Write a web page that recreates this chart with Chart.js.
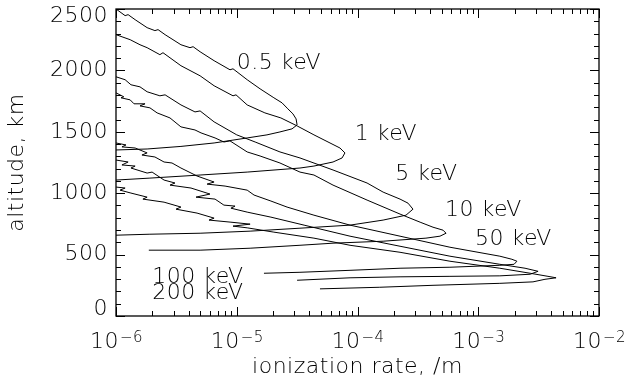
<!DOCTYPE html>
<html>
<head>
<meta charset="utf-8">
<script src="https://cdn.jsdelivr.net/npm/chart.js@4.4.0/dist/chart.umd.min.js"></script>
<style>
    html, body { margin: 0; padding: 0; background: #fff; }
</style>
</head>
<body>
<canvas id="myChart" width="640" height="388"></canvas>
<script>
// ionization rate (/m) against altitude (km), one pair of arrays per beam energy

const rate05 = [1.0e-6, 1.19e-6, 1.26e-6, 1.44e-6, 1.81e-6, 2.10e-6, 2.23e-6, 2.55e-6, 3.45e-6, 4.10e-6, 4.35e-6, 4.97e-6, 6.49e-6, 8.79e-6, 9.31e-6, 1.22e-5, 1.56e-5, 2.03e-5, 2.37e-5, 2.65e-5, 2.92e-5, 3.10e-5, 3.16e-5, 2.87e-5, 2.28e-5, 1.78e-5, 1.22e-5, 6.49e-6, 3.45e-6, 1.81e-6, 1.0e-6];
const alt05 = [2500, 2446, 2454, 2413, 2348, 2324, 2332, 2291, 2209, 2185, 2193, 2152, 2079, 2005, 2013, 1924, 1850, 1777, 1736, 1687, 1646, 1605, 1556, 1524, 1499, 1475, 1450, 1409, 1381, 1360, 1352];

const rate1 = [1.0e-6, 1.31e-6, 1.58e-6, 1.81e-6, 2.31e-6, 2.45e-6, 3.45e-6, 4.97e-6, 6.49e-6, 9.31e-6, 9.86e-6, 1.22e-5, 1.71e-5, 2.32e-5, 3.16e-5, 4.36e-5, 5.92e-5, 7.16e-5, 7.87e-5, 7.45e-5, 6.27e-5, 4.36e-5, 3.34e-5, 1.22e-5, 4.97e-6, 1.91e-6, 1.0e-6];
const alt1 = [2291, 2250, 2209, 2185, 2128, 2144, 2038, 1956, 1875, 1793, 1801, 1719, 1654, 1613, 1548, 1475, 1409, 1368, 1328, 1287, 1254, 1221, 1205, 1172, 1148, 1123, 1107];

const rate5 = [1.0e-6, 1.19e-6, 1.33e-6, 1.58e-6, 1.81e-6, 2.31e-6, 2.55e-6, 3.45e-6, 4.51e-6, 4.97e-6, 6.49e-6, 1.00e-5, 1.42e-5, 2.28e-5, 3.34e-5, 6.27e-5, 1.20e-4, 1.63e-4, 2.25e-4, 2.62e-4, 2.88e-4, 2.52e-4, 1.63e-4, 8.67e-5, 3.34e-5, 1.29e-5, 4.97e-6, 1.91e-6, 1.0e-6];
const alt5 = [1948, 1924, 1883, 1866, 1826, 1793, 1801, 1719, 1662, 1670, 1581, 1475, 1417, 1336, 1287, 1189, 1083, 1009, 952, 919, 870, 821, 781, 740, 715, 691, 674, 666, 658];

const rate10 = [1.0e-6, 1.16e-6, 1.10e-6, 1.31e-6, 1.41e-6, 1.74e-6, 1.58e-6, 1.91e-6, 2.19e-6, 2.80e-6, 3.45e-6, 4.51e-6, 5.06e-6, 6.61e-6, 7.83e-6, 8.79e-6, 1.22e-5, 1.56e-5, 2.28e-5, 3.34e-5, 4.36e-5, 6.27e-5, 1.20e-4, 2.25e-4, 3.30e-4, 4.22e-4, 5.11e-4, 5.41e-4, 4.82e-4, 3.69e-4, 1.63e-4, 6.27e-5, 3.34e-5, 1.29e-5, 4.97e-6, 1.87e-6];
const alt10 = [1817, 1785, 1777, 1760, 1728, 1728, 1711, 1695, 1654, 1613, 1540, 1515, 1491, 1450, 1417, 1426, 1336, 1303, 1246, 1172, 1148, 1066, 944, 830, 764, 723, 699, 674, 650, 634, 609, 593, 576, 552, 536, 536];

const rate50 = [1.0e-6, 1.21e-6, 1.12e-6, 1.44e-6, 1.81e-6, 1.64e-6, 2.10e-6, 2.50e-6, 2.91e-6, 3.45e-6, 4.69e-6, 6.49e-6, 5.68e-6, 8.00e-6, 1.22e-5, 1.39e-5, 1.92e-5, 2.61e-5, 4.36e-5, 8.67e-5, 2.25e-4, 5.83e-4, 1.51e-3, 1.90e-3, 2.09e-3, 1.98e-3, 1.51e-3, 5.83e-4, 2.25e-4, 8.67e-5, 3.34e-5, 1.68e-5];
const alt50 = [1409, 1393, 1377, 1368, 1328, 1311, 1295, 1254, 1246, 1205, 1140, 1091, 1074, 1058, 1025, 985, 936, 887, 821, 740, 650, 560, 487, 462, 446, 421, 413, 397, 389, 372, 356, 348];

const rate100 = [1.0e-6, 1.26e-6, 1.12e-6, 1.44e-6, 1.33e-6, 1.81e-6, 1.99e-6, 2.50e-6, 3.08e-6, 2.80e-6, 4.18e-6, 6.00e-6, 4.60e-6, 6.61e-6, 7.83e-6, 9.68e-6, 8.95e-6, 1.22e-5, 1.92e-5, 3.61e-5, 8.67e-5, 2.25e-4, 5.83e-4, 1.51e-3, 2.44e-3, 3.13e-3, 2.69e-3, 1.51e-3, 5.83e-4, 2.25e-4, 8.67e-5, 3.16e-5];
const alt100 = [1270, 1254, 1230, 1221, 1205, 1164, 1172, 1107, 1083, 1066, 1042, 993, 968, 952, 903, 895, 878, 846, 805, 740, 650, 568, 487, 421, 389, 364, 340, 327, 323, 319, 311, 291];

const rate200 = [1.0e-6, 1.19e-6, 1.08e-6, 1.33e-6, 1.81e-6, 1.67e-6, 2.50e-6, 3.45e-6, 3.14e-6, 4.69e-6, 6.49e-6, 5.89e-6, 8.95e-6, 1.29e-5, 9.31e-6, 1.22e-5, 2.03e-5, 4.36e-5, 8.67e-5, 2.25e-4, 5.83e-4, 1.51e-3, 2.69e-3, 3.78e-3, 4.41e-3, 3.57e-3, 2.84e-3, 1.51e-3, 4.22e-4, 1.53e-4, 4.89e-5];
const alt200 = [1050, 1042, 1025, 1001, 968, 952, 927, 887, 870, 838, 797, 781, 764, 748, 732, 718, 683, 634, 576, 519, 446, 389, 348, 323, 311, 299, 278, 266, 250, 234, 221];

const energies = ["0.5 keV", "1 keV", "5 keV", "10 keV", "50 keV", "100 keV", "200 keV"];

// axis ticks
const xMajor = [1e-6, 1e-5, 1e-4, 1e-3, 1e-2];
const xExp = ["\u22126", "\u22125", "\u22124", "\u22123", "\u22122"];
const xSteps = [1, 2, 3, 4, 5, 6, 7, 8, 9];
const yMajor = [0, 500, 1000, 1500, 2000, 2500];
const yLabels = ["0", "500", "1000", "1500", "2000", "2500"];

// where each curve name is written (rate, altitude of the text's left middle)
const labelAt = [
    [1.0e-5, 2058],
    [9.5e-5, 1483],
    [2.05e-4, 1156],
    [5.3e-4, 858],
    [9.4e-4, 625],
    [2.0e-6, 319],
    [2.0e-6, 185],
];

const series = [
    [rate05, alt05],
    [rate1, alt1],
    [rate5, alt5],
    [rate10, alt10],
    [rate50, alt50],
    [rate100, alt100],
    [rate200, alt200],
];

const xTicks = [];
xMajor.forEach((d, i) => {
    if (i < xMajor.length - 1) xSteps.forEach(m => xTicks.push(m * d));
    else xTicks.push(d);
});

const FONT = '"DejaVu Sans", "Liberation Sans", sans-serif';
const WEIGHT = "300";
const INK = "#000";

Chart.defaults.font.family = FONT;
Chart.defaults.font.size = 22;
Chart.defaults.font.weight = WEIGHT;
Chart.defaults.color = INK;

const frame = {
    id: "frame",
    beforeDraw(chart) {
        chart.ctx.letterSpacing = "0.5px";
    },
    afterDraw(chart) {
        const { ctx, chartArea: a, scales: { x, y } } = chart;
        ctx.save();
        ctx.strokeStyle = "#000";
        ctx.lineWidth = 1.3;
        ctx.strokeRect(a.left, a.top, a.right - a.left, a.bottom - a.top);

        // inward tick marks on all four sides
        ctx.lineWidth = 1;
        ctx.beginPath();
        x.ticks.forEach(t => {
            const p = Math.round(x.getPixelForValue(t.value)) + 0.5;
            const len = xMajor.includes(t.value) ? 9 : 5;
            ctx.moveTo(p, a.bottom);
            ctx.lineTo(p, a.bottom - len);
            ctx.moveTo(p, a.top);
            ctx.lineTo(p, a.top + len);
        });
        y.ticks.forEach(t => {
            const p = Math.round(y.getPixelForValue(t.value)) + 0.5;
            const len = yMajor.includes(t.value) ? 9 : 5;
            ctx.moveTo(a.left, p);
            ctx.lineTo(a.left + len, p);
            ctx.moveTo(a.right, p);
            ctx.lineTo(a.right - len, p);
        });
        ctx.stroke();

        const big = WEIGHT + " 22px " + FONT;
        const small = WEIGHT + " 15px " + FONT;
        ctx.fillStyle = INK;

        // y tick labels, the end ones nudged inside like the original
        ctx.font = big;
        ctx.textAlign = "right";
        ctx.textBaseline = "middle";
        yMajor.forEach((v, i) => {
            let p = y.getPixelForValue(v);
            if (i === 0) p -= 7;
            if (i === yMajor.length - 1) p += 7;
            ctx.fillText(yLabels[i], a.left - 8, p);
        });

        // x tick labels as 10 with a raised exponent
        ctx.textBaseline = "alphabetic";
        ctx.textAlign = "left";
        xMajor.forEach((v, i) => {
            const p = x.getPixelForValue(v);
            ctx.font = big;
            const wBase = ctx.measureText("10").width;
            ctx.font = small;
            const wExp = ctx.measureText(xExp[i]).width;
            const x0 = p - (wBase + wExp) / 2;
            ctx.font = big;
            ctx.fillText("10", x0, a.bottom + 32);
            ctx.font = small;
            ctx.fillText(xExp[i], x0 + wBase + 1, a.bottom + 26);
        });

        // curve names
        ctx.font = big;
        ctx.textBaseline = "middle";
        energies.forEach((name, i) => {
            ctx.fillText(name, x.getPixelForValue(labelAt[i][0]), y.getPixelForValue(labelAt[i][1]));
        });
        ctx.restore();
    },
};

const datasets = series.map(([r, a], i) => ({
    label: energies[i],
    data: r.map((v, j) => ({ x: v, y: a[j] })),
    showLine: true,
    borderColor: "#000",
    borderWidth: 1,
    pointRadius: 0,
    tension: 0,
    fill: false,
}));

const config = {
    type: "scatter",
    data: { datasets: datasets },
    options: {
        responsive: false,
        animation: false,
        layout: { padding: { top: 9, right: 41, left: 0, bottom: 0 } },
        plugins: {
            legend: { display: false },
            tooltip: { enabled: false },
        },
        scales: {
            x: {
                type: "logarithmic",
                min: 1e-6,
                max: 1e-2,
                grid: { display: false, drawTicks: false },
                border: { display: false },
                ticks: { display: false },
                afterBuildTicks: s => {
                    s.ticks = xTicks.map(v => ({ value: v }));
                },
                afterFit: s => {
                    s.height = 72;
                    s.paddingLeft = 0;
                    s.paddingRight = 0;
                },
                title: {
                    display: true,
                    text: "ionization rate, /m",
                    padding: { top: 0, bottom: 8 },
                },
            },
            y: {
                min: 0,
                max: 2500,
                grid: { display: false, drawTicks: false },
                border: { display: false },
                ticks: {
                    stepSize: 100,
                    autoSkip: false,
                    padding: 8,
                    // labels are drawn by the frame plugin
                    callback: () => "",
                },
                afterFit: s => {
                    s.width = 116;
                    s.paddingTop = 0;
                    s.paddingBottom = 0;
                },
                title: {
                    display: true,
                    text: "altitude, km",
                    padding: { top: 4, bottom: 0 },
                },
            },
        },
    },
    plugins: [frame],
};

const myChart = new Chart(document.getElementById("myChart"), config);
</script>
</body>
</html>
